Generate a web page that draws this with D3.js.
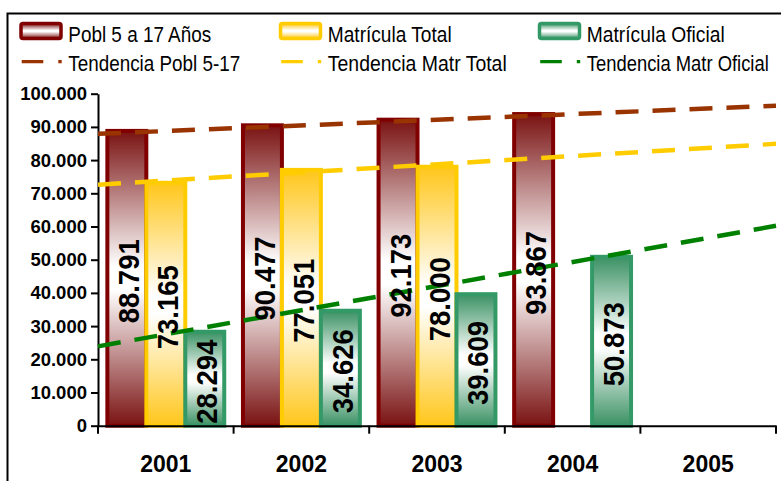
<!DOCTYPE html>
<html>
<head>
<meta charset="utf-8">
<script src="https://cdn.jsdelivr.net/npm/d3@7"></script>
<style>
  html, body { margin: 0; padding: 0; background: #fff; }
  svg { display: block; }
</style>
</head>
<body>
<svg id="chart" width="781" height="481"></svg>
<script>
// ---------------- DATA ----------------
const years = ["2001", "2002", "2003", "2004", "2005"];
const seriesNames = ["Pobl 5 a 17 Años", "Matrícula Total", "Matrícula Oficial"];
const pobl = [88791, 90477, 92173, 93867, null];
const matrTotal = [73165, 77051, 78000, null, null];
const matrOficial = [28294, 34626, 39609, 50873, null];
const trendNames = ["Tendencia Pobl 5-17", "Tendencia Matr Total", "Tendencia Matr Oficial"];
// trend line values read at left edge (2001 start) and right edge (2005 end)
const trendPobl = [87900, 96400];
const trendTotal = [72600, 84900];
const trendOficial = [23900, 60200];
const yTicks = [0, 10000, 20000, 30000, 40000, 50000, 60000, 70000, 80000, 90000, 100000];

// ---------------- SETUP ----------------
const svg = d3.select("#chart");
const locale = d3.formatLocale({ decimal: ",", thousands: ".", grouping: [3], currency: ["$", ""] });
const fmt = locale.format(",d");

const plotL = 98, plotR = 776, plotT = 93.7, plotB = 425.7;
const x0 = d3.scaleBand().domain(years).range([plotL, plotR]).padding(0);
const x1 = d3.scaleBand().domain(seriesNames).range([0, x0.bandwidth()]).paddingInner(0).paddingOuter(0.24);
const y = d3.scaleLinear().domain([0, 100000]).range([plotB, plotT]);
const xt = d3.scaleLinear().domain([0, 1]).range([plotL, plotR]);

const fills = [
  { id: "gPobl", edge: "#7a1212", stroke: "#800000" },
  { id: "gTotal", edge: "#ffc61a", stroke: "#ffcc00" },
  { id: "gOficial", edge: "#3a9163", stroke: "#339966" }
];
const trendColors = ["#993300", "#ffcc00", "#008000"];

const defs = svg.append("defs");
fills.forEach(f => {
  const g = defs.append("linearGradient").attr("id", f.id)
    .attr("x1", 0).attr("y1", 0).attr("x2", 0).attr("y2", 1);
  g.append("stop").attr("offset", "0%").attr("stop-color", f.edge);
  g.append("stop").attr("offset", "46%").attr("stop-color", "#ffffff");
  g.append("stop").attr("offset", "54%").attr("stop-color", "#ffffff");
  g.append("stop").attr("offset", "100%").attr("stop-color", f.edge);
});

// outer frame
svg.append("rect").attr("x", 7.5).attr("y", 13.5).attr("width", 800).attr("height", 500)
  .attr("fill", "none").attr("stroke", "#000").attr("stroke-width", 2);

// ---------------- BARS ----------------
const allSeries = [pobl, matrTotal, matrOficial];
const barData = [];
years.forEach((yr, i) => {
  allSeries.forEach((s, k) => {
    if (s[i] != null) barData.push({ yr, k, v: s[i] });
  });
});

const bars = svg.append("g");
bars.selectAll("rect").data(barData).enter().append("rect")
  .attr("x", d => x0(d.yr) + x1(seriesNames[d.k]))
  .attr("y", d => y(d.v))
  .attr("width", x1.bandwidth())
  .attr("height", d => y(0) - y(d.v))
  .attr("fill", d => `url(#${fills[d.k].id})`)
  .attr("stroke", d => fills[d.k].stroke)
  .attr("stroke-width", 4);

// ---------------- AXES ----------------
const yAxis = svg.append("g").attr("transform", `translate(${plotL},0)`)
  .call(d3.axisLeft(y).tickValues(yTicks).tickSize(7).tickSizeOuter(0).tickPadding(4).tickFormat(fmt));
yAxis.select(".domain").attr("stroke", "#000").attr("stroke-width", 2);
yAxis.selectAll(".tick line").attr("stroke", "#000").attr("stroke-width", 2);
yAxis.selectAll(".tick text").attr("fill", "#000")
  .style("font-family", "'Liberation Sans', Arial, sans-serif")
  .style("font-weight", "bold").style("font-size", "18.5px");

const xAxis = svg.append("g").attr("transform", `translate(0,${plotB})`)
  .call(d3.axisBottom(x0).tickSize(0).tickSizeOuter(0).tickPadding(30));
xAxis.select(".domain").attr("stroke", "#000").attr("stroke-width", 2);
xAxis.selectAll(".tick text").attr("fill", "#000")
  .style("font-family", "'Liberation Sans', Arial, sans-serif")
  .style("font-weight", "bold").style("font-size", "23px");
// boundary tick marks
const bounds = years.map(yr => x0(yr)).concat([x0(years[years.length - 1]) + x0.bandwidth()]);
xAxis.selectAll("line.bound").data(bounds).enter().append("line").attr("class", "bound")
  .attr("x1", d => d).attr("x2", d => d).attr("y1", 0).attr("y2", 8)
  .attr("stroke", "#000").attr("stroke-width", 2);

// ---------------- TREND LINES ----------------
const trends = [trendPobl, trendTotal, trendOficial];
const line = d3.line().x((d, i) => xt(i)).y(d => y(d));
svg.append("g").selectAll("path").data(trends).enter().append("path")
  .attr("d", d => line(d))
  .attr("fill", "none")
  .attr("stroke", (d, i) => trendColors[i])
  .attr("stroke-width", 4.5)
  .attr("stroke-dasharray", "23 14");

// ---------------- BAR LABELS ----------------
svg.append("g").selectAll("text").data(barData).enter().append("text")
  .attr("transform", d => {
    const cx = x0(d.yr) + x1(seriesNames[d.k]) + x1.bandwidth() / 2;
    const cy = (y(d.v) + y(0)) / 2 + 3;
    return `translate(${cx + 12.5},${cy}) rotate(-90)`;
  })
  .attr("text-anchor", "middle")
  .attr("textLength", 84)
  .attr("lengthAdjust", "spacingAndGlyphs")
  .style("font-family", "'Liberation Sans', Arial, sans-serif")
  .style("font-weight", "bold").style("font-size", "29px")
  .attr("fill", "#000")
  .text(d => fmt(d.v));

// ---------------- LEGEND ----------------
const legFont = "'Liberation Sans Narrow', 'Arial Narrow', 'Liberation Sans', Arial, sans-serif";
const legX = [19.5, 279, 538];
const legTextW = [143, 124, 138];
const trendTextW = [172, 179, 182];
const leg = svg.append("g");

function condensedText(x, yPos, width, label) {
  const t = leg.append("text").attr("x", 0).attr("y", 0)
    .style("font-family", legFont).style("font-size", "22.5px").attr("fill", "#000")
    .text(label);
  const natural = t.node().getComputedTextLength() || width;
  t.attr("transform", `translate(${x},${yPos}) scale(${width / natural},1)`);
}

seriesNames.forEach((name, k) => {
  leg.append("rect").attr("x", legX[k] + 1.5).attr("y", 23.5).attr("width", 40).attr("height", 15)
    .attr("rx", 2).attr("fill", `url(#${fills[k].id})`)
    .attr("stroke", fills[k].stroke).attr("stroke-width", 3.5);
  condensedText(legX[k] + 48.8, 41.5, legTextW[k], name);
});
trendNames.forEach((name, k) => {
  leg.append("line").attr("x1", legX[k] + 2.2).attr("x2", legX[k] + 42.2)
    .attr("y1", 61.7).attr("y2", 61.7)
    .attr("stroke", trendColors[k]).attr("stroke-width", 3.2)
    .attr("stroke-dasharray", "21.6 15");
  condensedText(legX[k] + 48.8, 70.5, trendTextW[k], name);
});
</script>
</body>
</html>
